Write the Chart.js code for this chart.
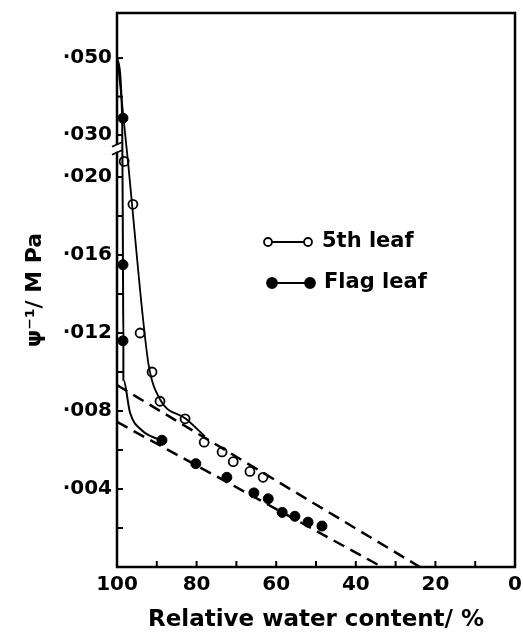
<!DOCTYPE html>
<html lang="en">
<head>
  <meta charset="UTF-8" />
  <title>Leaf water potential vs relative water content</title>
  <script src="https://cdn.jsdelivr.net/npm/chart.js"></script>
  <style>
    body { margin: 0; background: #fff; }
    #wrap { width: 523px; height: 634px; }
  </style>
</head>
<body>
  <div id="wrap"><canvas id="chart" width="523" height="634"></canvas></div>

  <script>
    // measured points (RWC %, psi^-1 in MPa^-1)
    const rwc5th = [98.2, 96.0, 94.2, 91.2, 89.2, 82.9, 78.1, 73.6, 70.8, 66.6, 63.3];
    const psi5th = [0.0208, 0.0186, 0.0120, 0.0100, 0.0085, 0.0076, 0.0064, 0.0059, 0.0054, 0.0049, 0.0046];
    const rwcFlag = [98.5, 98.5, 98.5, 88.7, 80.2, 72.4, 65.6, 62.0, 58.5, 55.3, 52.0, 48.5];
    const psiFlag = [0.0344, 0.0155, 0.0116, 0.0065, 0.0053, 0.0046, 0.0038, 0.0035, 0.0028, 0.0026, 0.0023, 0.0021];

    // hand drawn curves through the points
    const curve5thRwc = [99.8, 97.2, 93.5, 92.0, 89.2, 82.7, 77.9];
    const curve5thPsi = [0.049, 0.0207, 0.0128, 0.0103, 0.0086, 0.0076, 0.0067];
    const curveFlagRwc = [100, 98.7, 98.5, 98.4, 98.4, 96.7, 93.7, 89.7, 88.7];
    const curveFlagPsi = [0.050, 0.0344, 0.0155, 0.0116, 0.0096, 0.0079, 0.0070, 0.00656, 0.0065];

    // extrapolated linear parts
    const dash5thRwc = [100, 23.9];
    const dash5thPsi = [0.00933, 0];
    const dashFlagRwc = [100, 33.4];
    const dashFlagPsi = [0.00744, 0];

    const xTicks = [100, 90, 80, 70, 60, 50, 40, 30, 20, 10, 0];
    const yTicks = [0.002, 0.004, 0.006, 0.008, 0.010, 0.012, 0.014, 0.016, 0.018, 0.020, 0.030, 0.040, 0.050];
    const yLabels = ['', '·004', '', '·008', '', '·012', '', '·016', '', '·020', '·030', '', '·050'];

    // broken y axis: above the break the scale is compressed
    function toAxis(v) {
      return v <= 0.025 ? v : 0.02215 + (v - 0.030) * 0.1974;
    }
    function pts(xs, ys) {
      return xs.map((x, i) => ({ x: x, y: toAxis(ys[i]) }));
    }

    const FONT = 'DejaVu Sans';

    const innerTicks = {
      id: 'innerTicks',
      afterDatasetsDraw(chart) {
        const ctx = chart.ctx, a = chart.chartArea;
        const xs = chart.scales.x, ys = chart.scales.y;
        ctx.save();
        ctx.strokeStyle = '#000';
        ctx.lineWidth = 2;
        xTicks.forEach(v => {
          if (v === 0 || v === 100) return;
          const px = xs.getPixelForValue(v);
          ctx.beginPath(); ctx.moveTo(px, a.bottom); ctx.lineTo(px, a.bottom - 6); ctx.stroke();
        });
        yTicks.forEach(v => {
          const py = ys.getPixelForValue(toAxis(v));
          ctx.beginPath(); ctx.moveTo(a.left, py); ctx.lineTo(a.left + 6, py); ctx.stroke();
        });
        // frame
        ctx.lineWidth = 2.5;
        ctx.strokeRect(a.left, a.top, a.right - a.left, a.bottom - a.top);
        // axis break
        const yb = ys.getPixelForValue(0.0214);
        ctx.fillStyle = '#fff';
        ctx.fillRect(a.left - 3, yb - 5, 6, 7);
        ctx.lineWidth = 1.8;
        ctx.beginPath();
        ctx.moveTo(a.left - 5, yb - 3); ctx.lineTo(a.left + 6, yb - 8);
        ctx.moveTo(a.left - 5, yb + 5); ctx.lineTo(a.left + 6, yb);
        ctx.stroke();
        ctx.restore();
      }
    };

    const legendBox = {
      id: 'legendBox',
      afterDraw(chart) {
        const ctx = chart.ctx;
        const rows = [
          { text: '5th leaf', fill: '#fff', y: 242, x0: 268, x1: 308, r: 4 },
          { text: 'Flag leaf', fill: '#000', y: 283, x0: 272, x1: 310, r: 5 }
        ];
        ctx.save();
        rows.forEach(r => {
          ctx.strokeStyle = '#000';
          ctx.lineWidth = 1.8;
          ctx.beginPath(); ctx.moveTo(r.x0, r.y); ctx.lineTo(r.x1, r.y); ctx.stroke();
          [r.x0, r.x1].forEach(cx => {
            ctx.beginPath(); ctx.arc(cx, r.y, r.r, 0, Math.PI * 2);
            ctx.fillStyle = r.fill; ctx.fill(); ctx.stroke();
          });
          ctx.fillStyle = '#000';
          ctx.font = 'bold 21px "' + FONT + '"';
          ctx.textBaseline = 'middle';
          ctx.fillText(r.text, r.x1 + 14, r.y);
        });
        ctx.restore();
      }
    };

    const lineStyle = { showLine: true, pointRadius: 0, borderColor: '#000', fill: false };

    new Chart(document.getElementById('chart'), {
      type: 'scatter',
      data: {
        datasets: [
          { ...lineStyle, label: 'curve 5th', data: pts(curve5thRwc, curve5thPsi), borderWidth: 1.8, cubicInterpolationMode: 'monotone' },
          { ...lineStyle, label: 'curve flag', data: pts(curveFlagRwc, curveFlagPsi), borderWidth: 2, cubicInterpolationMode: 'monotone' },
          { ...lineStyle, label: 'line 5th', data: pts(dash5thRwc, dash5thPsi), borderWidth: 2.5, borderDash: [12, 7] },
          { ...lineStyle, label: 'line flag', data: pts(dashFlagRwc, dashFlagPsi), borderWidth: 2.5, borderDash: [12, 7] },
          {
            label: '5th leaf', data: pts(rwc5th, psi5th),
            pointRadius: 4.5, pointBackgroundColor: '#fff', pointBorderColor: '#000', pointBorderWidth: 1.8
          },
          {
            label: 'Flag leaf', data: pts(rwcFlag, psiFlag),
            pointRadius: 5, pointBackgroundColor: '#000', pointBorderColor: '#000', pointBorderWidth: 1
          }
        ]
      },
      options: {
        responsive: false,
        animation: false,
        layout: { padding: { left: 0, top: 13, right: 8, bottom: 0 } },
        plugins: { legend: { display: false }, tooltip: { enabled: false } },
        scales: {
          x: {
            type: 'linear', min: 0, max: 100, reverse: true,
            afterFit: s => { s.height = 67; s.paddingLeft = 0; s.paddingRight = 0; },
            afterBuildTicks: s => { s.ticks = xTicks.map(v => ({ value: v })); },
            grid: { display: false, tickLength: 0 }, border: { display: false },
            ticks: {
              color: '#000', padding: 6, maxRotation: 0, autoSkip: false,
              font: { family: FONT, size: 20, weight: 'bold' },
              callback: v => (v % 20 === 0 ? String(v) : '')
            },
            title: {
              display: true, text: 'Relative water content/ %', color: '#000',
              font: { family: FONT, size: 23, weight: 'bold' }, padding: { top: 0, bottom: 0 }
            }
          },
          y: {
            type: 'linear', min: 0, max: 0.02841,
            afterFit: s => { s.width = 117; s.paddingTop = 0; s.paddingBottom = 0; },
            afterBuildTicks: s => { s.ticks = yTicks.map(v => ({ value: toAxis(v) })); },
            grid: { display: false, tickLength: 0 }, border: { display: false },
            ticks: {
              color: '#000', padding: 5, autoSkip: false,
              font: { family: FONT, size: 20, weight: 'bold' },
              callback: (v, i) => yLabels[i]
            },
            title: {
              display: true, text: 'ψ⁻¹/ M Pa', color: '#000',
              font: { family: FONT, size: 22, weight: 'bold' }, padding: { top: 22, bottom: 0 }
            }
          }
        }
      },
      plugins: [innerTicks, legendBox]
    });
  </script>
</body>
</html>
